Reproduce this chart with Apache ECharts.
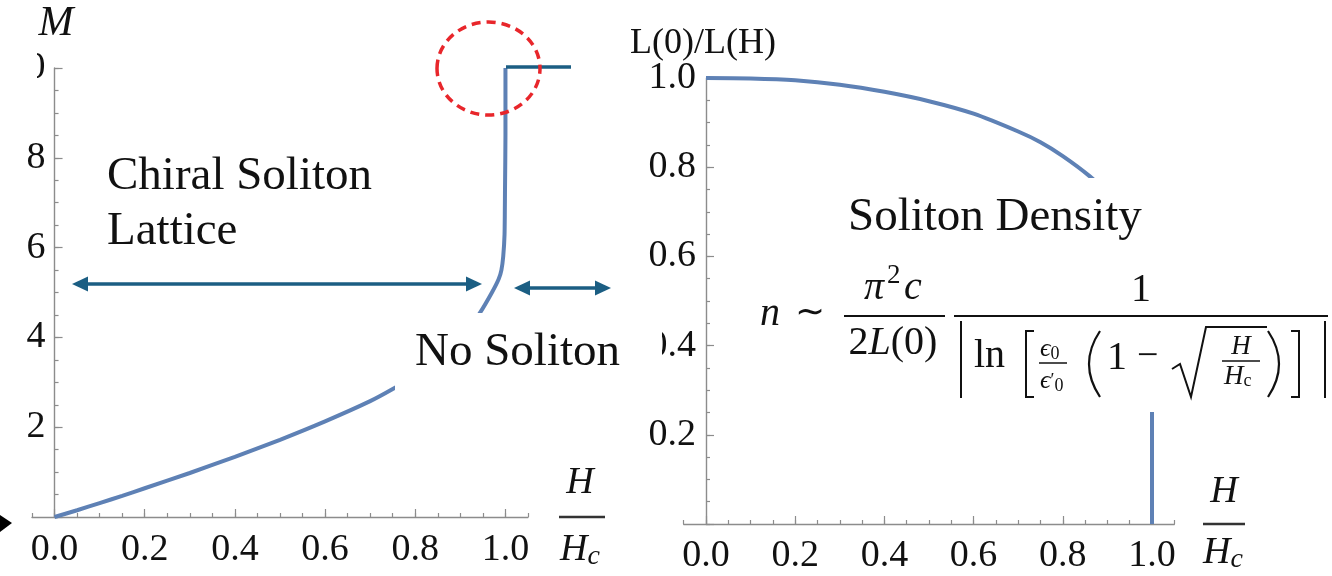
<!DOCTYPE html>
<html><head><meta charset="utf-8">
<script src="https://cdn.jsdelivr.net/npm/echarts@6/dist/echarts.min.js"></script>
<style>html,body{margin:0;padding:0;background:#fff}#c{width:1332px;height:576px}</style>
</head><body><div id="c"></div>
<script>
// ---- data ----
const magField = [0, 0.05, 0.1, 0.15, 0.2, 0.3, 0.4, 0.5, 0.6, 0.7, 0.75, 0.8, 0.85, 0.9, 0.943, 0.97, 0.985, 0.991, 0.995, 0.998, 0.999, 1.0, 1.0];
const magM     = [0, 0.15, 0.31, 0.47, 0.64, 0.98, 1.34, 1.72, 2.13, 2.58, 2.85, 3.15, 3.5, 3.95, 4.54, 5.0, 5.3, 5.5, 5.8, 6.3, 7.3, 8.5, 10];
const denField = [0, 0.1, 0.2, 0.3, 0.4, 0.5, 0.6, 0.7, 0.75, 0.8, 0.86, 0.9, 0.95, 0.98, 0.995, 1.0, 1.0];
const denRatio = [1.0, 0.999, 0.995, 0.985, 0.969, 0.948, 0.92, 0.88, 0.856, 0.825, 0.78, 0.74, 0.66, 0.57, 0.45, 0.3, 0];
const xTicks = [0, 0.2, 0.4, 0.6, 0.8, 1.0];
const mTicks = [0, 2, 4, 6, 8, 10];
const mLabels = [2, 4, 6, 8, 10];
const rTicks = [0, 0.2, 0.4, 0.6, 0.8, 1.0];
const rLabels = [0.2, 0.4, 0.6, 0.8, 1.0];

const FONT = '"Liberation Serif", "Times New Roman", serif';
const GRAY = '#8c8c8c';
const CURVE = '#5e81b5';
const TEAL = '#1b5e83';
const INK = '#111';

// grid geometry: x spans -0.05 .. 1.05
const G0 = { left: 32, top: 68, width: 496, height: 449 };
const G1 = { left: 683.7, top: 78, width: 490.6, height: 446 };
const off0 = -G0.width * 0.05 / 1.1;
const off1 = -G1.width * 0.05 / 1.1;

function minorAxis(grid, min, max, interval, pos, offset) {
  return { type: 'value', gridIndex: grid, min, max, interval, position: pos, offset: offset || 0,
    axisLine: { show: true, onZero: false, lineStyle: { color: GRAY, width: 1.4 } },
    axisTick: { inside: true, length: 4, lineStyle: { color: GRAY, width: 1.2 } },
    axisLabel: { show: false }, splitLine: { show: false } };
}
function majorAxis(grid, min, max, ticks, labels, pos, fmt, margin, offset) {
  return { type: 'value', gridIndex: grid, min, max, position: pos, offset: offset || 0,
    axisLine: { show: false, onZero: false },
    axisTick: { inside: true, length: 8, customValues: ticks, lineStyle: { color: GRAY, width: 1.2 } },
    axisLabel: { customValues: labels, formatter: fmt, fontFamily: FONT, fontSize: 38, color: INK, margin },
    splitLine: { show: false } };
}
const f1 = v => v.toFixed(1);
const f0 = v => String(Math.round(v));

function T(text, x, y, size, o) {
  o = o || {};
  return { type: 'text', x, y, z: 60, style: { text, fontFamily: FONT, fontSize: size,
    fontStyle: o.italic ? 'italic' : 'normal', fill: INK, align: o.align || 'left', verticalAlign: 'middle' } };
}
function R(text, x, y, rich, align) {
  return { type: 'text', x, y, z: 60, style: { text, rich, fill: INK, align: align || 'left', verticalAlign: 'middle' } };
}
function L(points, w, color, z) {
  return { type: 'polyline', z: z || 60, shape: { points }, style: { stroke: color || INK, lineWidth: w || 2, fill: null } };
}
function paren(x1, y1, cx, cy, y2) {
  return { type: 'bezierCurve', z: 60, shape: { x1, y1, x2: x1, y2, cpx1: cx, cpy1: cy }, style: { stroke: INK, lineWidth: 2.2, fill: null } };
}
function rect(x, y, w, h) {
  return { type: 'rect', z: 50, shape: { x, y, width: w, height: h }, style: { fill: '#fff' } };
}
function dblArrow(x1, x2, y, color) {
  const hl = 16, hw = 7.5;
  return [
    { type: 'line', z: 55, shape: { x1: x1 + 6, y1: y, x2: x2 - 6, y2: y }, style: { stroke: color, lineWidth: 3.5 } },
    { type: 'polygon', z: 55, shape: { points: [[x1, y], [x1 + hl, y - hw], [x1 + hl, y + hw]] }, style: { fill: color } },
    { type: 'polygon', z: 55, shape: { points: [[x2, y], [x2 - hl, y - hw], [x2 - hl, y + hw]] }, style: { fill: color } }
  ];
}
const it = (s) => ({ fontFamily: FONT, fontSize: s, fontStyle: 'italic', fill: INK });
const rm = (s) => ({ fontFamily: FONT, fontSize: s, fontStyle: 'normal', fill: INK });

const graphics = [
  // white cover boxes (composite figure)
  rect(395, 313, 267, 82),
  rect(840, 178, 320, 72),
  rect(745, 245, 587, 167),
  rect(0, 48, 37, 40),
  // annotations on left plot
  T('Chiral Soliton', 107, 177, 47),
  T('Lattice', 107, 232, 47),
  T('No Soliton', 415, 353, 47),
  ...dblArrow(72, 482, 284, TEAL),
  ...dblArrow(514, 611, 288, TEAL),
  { type: 'line', z: 55, shape: { x1: 506, y1: 67, x2: 571, y2: 67 }, style: { stroke: TEAL, lineWidth: 3.5 } },
  { type: 'ellipse', z: 56, shape: { cx: 488.5, cy: 68.5, rx: 51.5, ry: 46.5 },
    style: { fill: null, stroke: '#e8262b', lineWidth: 3.5, lineDash: [9, 6] } },
  { type: 'polygon', z: 55, shape: { points: [[0, 515], [12, 523], [0, 532]] }, style: { fill: '#000' } },
  // axis names
  T('M', 56, 24, 42, { italic: true, align: 'center' }),
  T('H', 580, 483, 38, { italic: true, align: 'center' }),
  L([[559, 517], [605, 517]], 2.5, '#333'),
  R('{i|H}{s|c}', 560, 550, { i: it(38), s: Object.assign(it(28), { padding: [14, 0, 0, 0] }) }),
  T('L(0)/L(H)', 703, 44, 36, { align: 'center' }),
  T('H', 1224, 492, 38, { italic: true, align: 'center' }),
  L([[1203, 524], [1245, 524]], 2.5, '#333'),
  R('{i|H}{s|c}', 1203, 553, { i: it(38), s: Object.assign(it(28), { padding: [14, 0, 0, 0] }) }),
  // right annotations
  T('Soliton Density', 848, 218, 47),
  T('n', 760, 314, 40, { italic: true }),
  T('\u223C', 795, 314, 36),
  T('\u03C0', 864, 288, 40, { italic: true }),
  T('2', 887, 276, 27),
  T('c', 904, 288, 40, { italic: true }),
  L([[844, 316], [945, 316]], 2),
  R('{r|2}{i|L}{r|(0)}', 893, 343, { r: rm(40), i: it(40) }, 'center'),
  T('1', 1141, 290, 40, { align: 'center' }),
  L([[954, 316], [1328, 316]], 2),
  L([[961, 321], [961, 398]], 2),
  T('ln', 974, 356, 40),
  L([[1034, 331], [1026, 331], [1026, 397], [1034, 397]], 2),
  R('{i|\u03F5}{s|0}', 1040, 349, { i: it(26), s: Object.assign(rm(18), { padding: [10, 0, 0, 0] }) }),
  L([[1039, 363], [1067, 363]], 1.5),
  R('{i|\u03F5}{p|\u2032}{s|0}', 1040, 381, { i: it(26), p: rm(18), s: Object.assign(rm(18), { padding: [10, 0, 0, 0] }) }),
  paren(1100, 331, 1078, 364, 397),
  T('1', 1107, 358, 40),
  T('\u2212', 1137, 357, 38),
  L([[1172, 369], [1180, 364], [1191, 397], [1206, 327], [1267, 327]], 2),
  T('H', 1241, 347, 27, { italic: true, align: 'center' }),
  L([[1222, 361], [1260, 361]], 1.5),
  R('{i|H}{s|c}', 1224, 377, { i: it(27), s: Object.assign(rm(18), { padding: [8, 0, 0, 0] }) }),
  paren(1268, 331, 1290, 364, 397),
  L([[1291, 331], [1299, 331], [1299, 397], [1291, 397]], 2),
  L([[1325, 321], [1325, 398]], 2)
];

const chart = echarts.init(document.getElementById('c'), null, { renderer: 'canvas' });
chart.setOption({
  animation: false,
  backgroundColor: '#fff',
  grid: [
    Object.assign({ containLabel: false, outerBoundsMode: 'none' }, G0),
    Object.assign({ containLabel: false, outerBoundsMode: 'none' }, G1)
  ],
  xAxis: [
    minorAxis(0, -0.05, 1.05, 0.05, 'bottom'),
    majorAxis(0, -0.05, 1.05, xTicks, xTicks, 'bottom', f1, 14),
    minorAxis(1, -0.05, 1.05, 0.05, 'bottom'),
    majorAxis(1, -0.05, 1.05, xTicks, xTicks, 'bottom', f1, 13)
  ],
  yAxis: [
    minorAxis(0, 0, 10, 0.5, 'left', off0),
    majorAxis(0, 0, 10, mTicks, mLabels, 'left', f0, 9, off0),
    minorAxis(1, 0, 1, 0.05, 'left', off1),
    majorAxis(1, 0, 1, rTicks, rLabels, 'left', f1, 10, off1)
  ],
  series: [
    { type: 'line', xAxisIndex: 0, yAxisIndex: 0, data: magField.map((x, i) => [x, magM[i]]),
      showSymbol: false, symbol: 'none', clip: false, smooth: 0.2, lineStyle: { color: CURVE, width: 4 }, z: 3 },
    { type: 'line', xAxisIndex: 2, yAxisIndex: 2, data: denField.map((x, i) => [x, denRatio[i]]),
      showSymbol: false, symbol: 'none', clip: false, smooth: 0.3, lineStyle: { color: CURVE, width: 4 }, z: 3 }
  ],
  graphic: graphics
});
</script></body></html>
